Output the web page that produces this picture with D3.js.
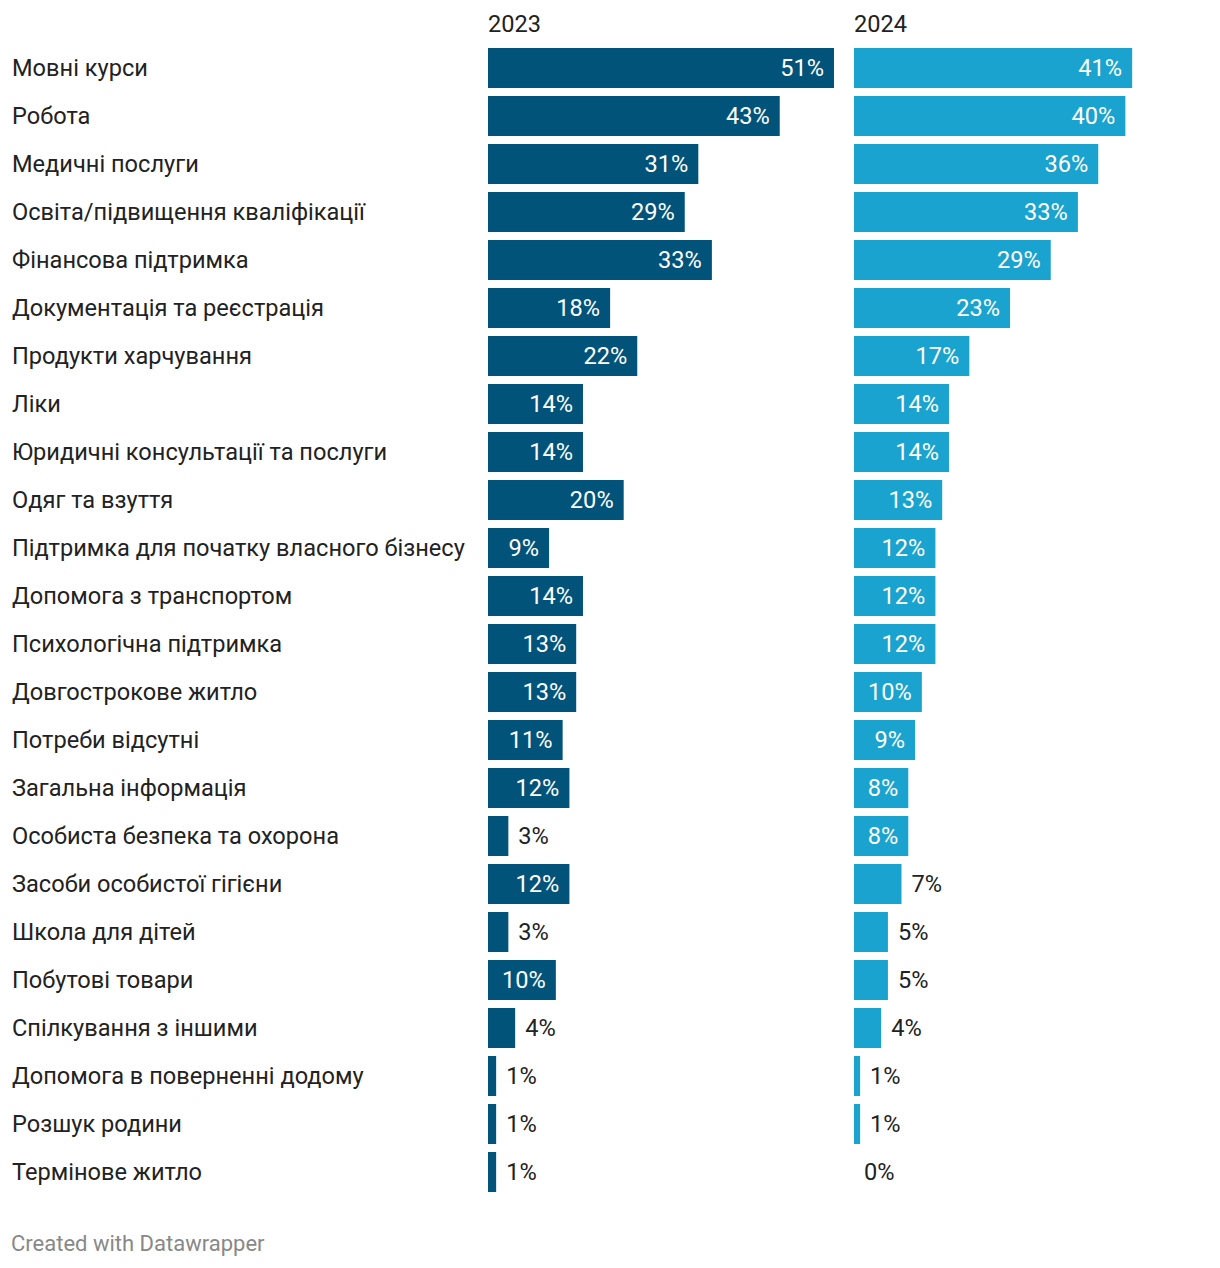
<!DOCTYPE html>
<html>
<head>
<meta charset="utf-8">
<script src="https://cdn.jsdelivr.net/npm/d3@7"></script>
<style>
  html, body { margin: 0; padding: 0; background: #fff; }
  svg { display: block; font-family: Roboto, "Noto Sans", sans-serif; }
</style>
</head>
<body>
<svg id="chart" width="1220" height="1268"></svg>
<script>
const categories = [
  "Мовні курси",
  "Робота",
  "Медичні послуги",
  "Освіта/підвищення кваліфікації",
  "Фінансова підтримка",
  "Документація та реєстрація",
  "Продукти харчування",
  "Ліки",
  "Юридичні консультації та послуги",
  "Одяг та взуття",
  "Підтримка для початку власного бізнесу",
  "Допомога з транспортом",
  "Психологічна підтримка",
  "Довгострокове житло",
  "Потреби відсутні",
  "Загальна інформація",
  "Особиста безпека та охорона",
  "Засоби особистої гігієни",
  "Школа для дітей",
  "Побутові товари",
  "Спілкування з іншими",
  "Допомога в поверненні додому",
  "Розшук родини",
  "Термінове житло"
];
const values2023 = [51, 43, 31, 29, 33, 18, 22, 14, 14, 20, 9, 14, 13, 13, 11, 12, 3, 12, 3, 10, 4, 1.2, 1.2, 1.2];
const values2024 = [41, 40, 36, 33, 29, 23, 17, 14, 14, 13, 12, 12, 12, 10, 9, 8, 8, 7, 5, 5, 4, 0.9, 0.9, 0];
const seriesNames = ["2023", "2024"];
const seriesColors = ["#02537a", "#1aa3ce"];
const footerText = "Created with Datawrapper";

const svg = d3.select("#chart");
const panelX = [488, 854];
const panelW = 346;
const FS = 23.6;
const x = d3.scaleLinear().domain([0, 51]).range([0, panelW]);
const y = d3.scaleBand().domain(categories).range([44, 44 + 48 * categories.length]).paddingInner(8 / 48).paddingOuter(4 / 48);

// category labels
svg.append("g").selectAll("text").data(categories).join("text")
  .attr("x", 12)
  .attr("y", d => y(d) + y.bandwidth() / 2)
  .attr("dy", "0.36em")
  .attr("font-size", FS)
  .attr("fill", "#222")
  .text(d => d);

const fmt = v => d3.format(".0f")(v) + "%";
const series = [values2023, values2024];

series.forEach((vals, si) => {
  const g = svg.append("g").attr("transform", `translate(${panelX[si]},0)`);
  g.append("text")
    .attr("x", 0).attr("y", 32)
    .attr("font-size", FS).attr("fill", "#222")
    .text(seriesNames[si]);
  const data = categories.map((c, i) => ({ c, v: vals[i] }));
  g.selectAll("rect").data(data.filter(d => d.v > 0)).join("rect")
    .attr("x", 0)
    .attr("y", d => y(d.c))
    .attr("width", d => x(d.v))
    .attr("height", y.bandwidth())
    .attr("fill", seriesColors[si]);
  const labels = g.selectAll("text.val").data(data).join("text")
    .attr("class", "val")
    .attr("y", d => y(d.c) + y.bandwidth() / 2)
    .attr("dy", "0.36em")
    .attr("font-size", FS)
    .text(d => fmt(d.v));
  labels.each(function(d) {
    const w = this.getComputedTextLength();
    const bw = x(d.v);
    const sel = d3.select(this);
    if (w + 20 < bw) {
      sel.attr("x", bw - 10).attr("text-anchor", "end").attr("fill", "#fff");
    } else {
      sel.attr("x", bw + 10).attr("text-anchor", "start").attr("fill", "#222");
    }
  });
});

svg.append("text")
  .attr("x", 11).attr("y", 1251)
  .attr("font-size", 22).attr("fill", "#888")
  .text(footerText);
</script>
</body>
</html>
